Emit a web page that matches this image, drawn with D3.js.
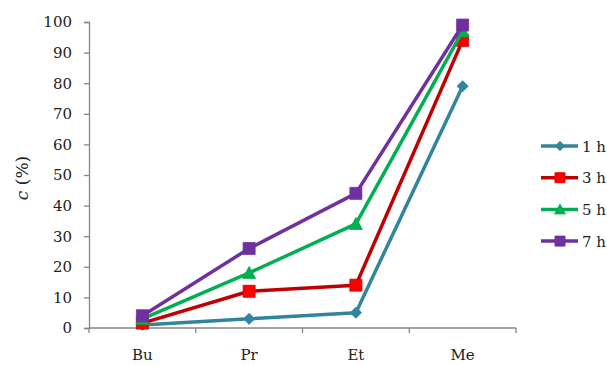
<!DOCTYPE html>
<html>
<head>
<meta charset="utf-8">
<script src="https://cdn.jsdelivr.net/npm/d3@7/dist/d3.min.js"></script>
<style>
  html, body { margin: 0; padding: 0; background: #fff; }
  svg { display: block; }
  text { font-family: "DejaVu Serif", "Liberation Serif", serif; fill: #222; }
</style>
</head>
<body>
<svg id="chart" width="607" height="365"></svg>
<script>
// Alcohol categories on the x axis
const categories = ["Bu", "Pr", "Et", "Me"];
// Reaction times (series names)
const seriesNames = ["1 h", "3 h", "5 h", "7 h"];
// Conversion c (%) per category, one array per reaction time
const values1h = [1, 3, 5, 79];
const values3h = [1.6, 12, 14, 94];
const values5h = [3, 18, 34, 97];
const values7h = [4, 26, 44, 99];
const yTicks = [0, 10, 20, 30, 40, 50, 60, 70, 80, 90, 100];

const seriesValues = [values1h, values3h, values5h, values7h];
const styles = [
  { line: "#31859C", fill: "#31859C", stroke: "#31859C", shape: "diamond" },
  { line: "#C00000", fill: "#FF0000", stroke: "#C00000", shape: "square" },
  { line: "#00B050", fill: "#00B050", stroke: "#00B050", shape: "triangle" },
  { line: "#7030A0", fill: "#7030A0", stroke: "#7030A0", shape: "square" }
];

const svg = d3.select("#chart");
const plotLeft = 89, plotRight = 516, plotTop = 22, plotBottom = 328;

const x = d3.scaleBand().domain(categories).range([plotLeft, plotRight]);
const y = d3.scaleLinear().domain([0, 100]).range([plotBottom, plotTop]);

const axisColor = "#868686";

// Y axis
const yAxis = svg.append("g").attr("transform", `translate(${plotLeft},0)`)
  .call(d3.axisLeft(y).tickValues(yTicks).tickSize(5).tickPadding(12));
yAxis.select(".domain").attr("stroke", axisColor).attr("stroke-width", 1.3);
yAxis.selectAll(".tick line").attr("stroke", axisColor).attr("stroke-width", 1.3);
yAxis.selectAll(".tick text")
  .attr("font-family", "DejaVu Serif").attr("font-size", 15).attr("fill", "#222");

// X axis: baseline with tick marks on category boundaries
const xg = svg.append("g");
xg.append("line").attr("x1", plotLeft).attr("x2", plotRight).attr("y1", plotBottom).attr("y2", plotBottom)
  .attr("stroke", axisColor).attr("stroke-width", 1.3);
const boundaries = categories.map(c => x(c)).concat([x(categories[categories.length - 1]) + x.bandwidth()]);
xg.selectAll("line.tk").data(boundaries).enter().append("line").attr("class", "tk")
  .attr("x1", d => d).attr("x2", d => d).attr("y1", plotBottom).attr("y2", plotBottom + 5)
  .attr("stroke", axisColor).attr("stroke-width", 1.3);
xg.selectAll("text").data(categories).enter().append("text")
  .attr("x", d => x(d) + x.bandwidth() / 2).attr("y", 360)
  .attr("text-anchor", "middle").attr("font-size", 15).text(d => d);

// Y axis title
const yt = svg.append("text")
  .attr("transform", "translate(28,178) rotate(-90)")
  .attr("text-anchor", "middle").attr("font-size", 17);
yt.append("tspan").attr("font-style", "italic").text("c");
yt.append("tspan").text(" (%)");

// Marker path generator
function markerPath(shape) {
  if (shape === "diamond") return d3.symbol().type(d3.symbolDiamond2).size(80)();
  if (shape === "square") return "M-6,-6H6V6H-6Z";
  if (shape === "triangle") return "M0,-6.5L6.5,5.5H-6.5Z";
}

const line = d3.line()
  .x((d, i) => x(categories[i]) + x.bandwidth() / 2)
  .y(d => y(d));

seriesValues.forEach((vals, si) => {
  const st = styles[si];
  const g = svg.append("g");
  g.append("path").datum(vals).attr("d", line)
    .attr("fill", "none").attr("stroke", st.line).attr("stroke-width", 3.5)
    .attr("stroke-linejoin", "round");
  g.selectAll("path.m").data(vals).enter().append("path").attr("class", "m")
    .attr("d", markerPath(st.shape))
    .attr("transform", (d, i) => `translate(${x(categories[i]) + x.bandwidth() / 2},${y(d)})`)
    .attr("fill", st.fill).attr("stroke", st.stroke).attr("stroke-width", 0.8);
});

// Legend
const legY0 = 146, legStep = 31.7;
seriesNames.forEach((name, si) => {
  const st = styles[si];
  const yy = legY0 + si * legStep;
  const g = svg.append("g");
  g.append("line").attr("x1", 541).attr("x2", 578).attr("y1", yy).attr("y2", yy)
    .attr("stroke", st.line).attr("stroke-width", 3.5);
  g.append("path").attr("d", markerPath(st.shape))
    .attr("transform", `translate(560,${yy}) scale(0.85)`)
    .attr("fill", st.fill).attr("stroke", st.stroke).attr("stroke-width", 0.8);
  g.append("text").attr("x", 582).attr("y", yy + 5.5).attr("font-size", 15).text(name);
});
</script>
</body>
</html>
